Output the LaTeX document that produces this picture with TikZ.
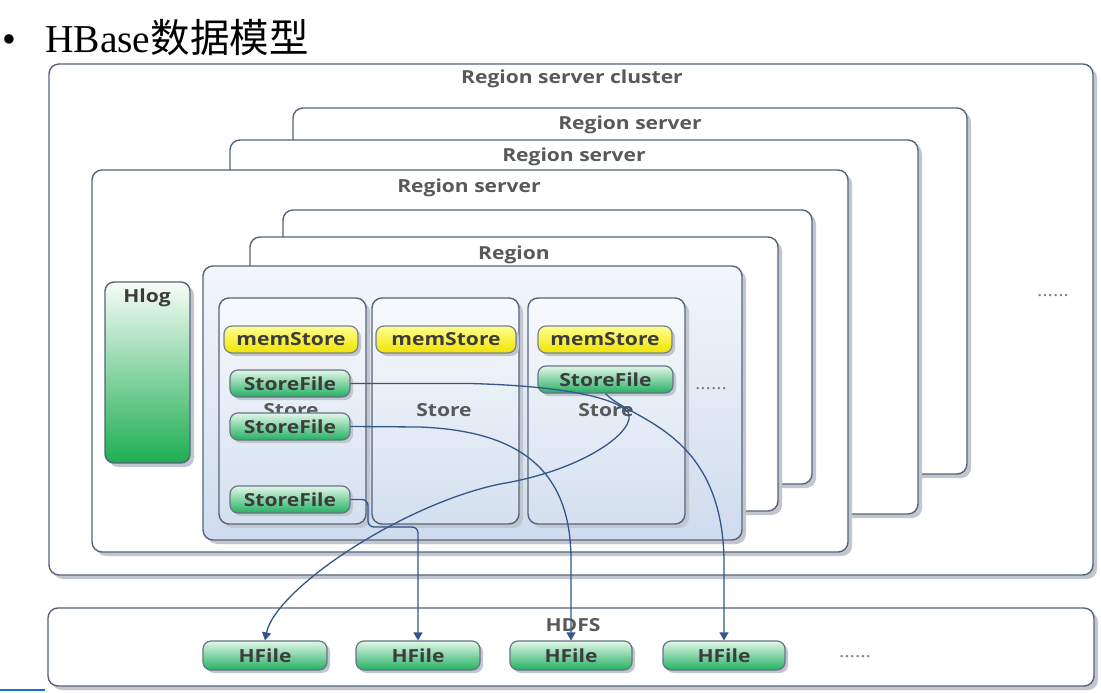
\documentclass[tikz,border=0pt]{standalone}
\usepackage{fontspec}
\setmainfont{Open Sans}
\newfontfamily\wfont[FakeStretch=1.17]{Open Sans}
\newfontfamily\titlefont{Liberation Serif}
\newfontfamily\cjkfont{Noto Sans CJK SC}
\usetikzlibrary{shadows,arrows.meta}
\definecolor{bordc}{HTML}{56637A}
\definecolor{shadc}{HTML}{C2C6CE}
\definecolor{arrc}{HTML}{34568A}
\definecolor{txtc}{HTML}{3C3C3C}
\definecolor{rgTop}{HTML}{F3F6FB}
\definecolor{rgBot}{HTML}{CFDCEE}
\definecolor{stTop}{HTML}{F8FAFD}
\definecolor{stBot}{HTML}{D4E0F0}
\definecolor{gTop}{HTML}{E2F7E8}
\definecolor{gBot}{HTML}{24B062}
\definecolor{yTop}{HTML}{FFFF90}
\definecolor{yBot}{HTML}{F0E400}
\definecolor{hlTop}{HTML}{F7FCF8}
\definecolor{hlBot}{HTML}{1DAE52}
\definecolor{blueline}{HTML}{1C6FD0}
\tikzset{
  bx/.style={draw=bordc, line width=1.4pt, rounded corners=10pt, inner sep=0pt, fill=white,
    drop shadow={shadow xshift=4pt, shadow yshift=-4pt, fill=shadc, opacity=1}},
  lab/.style={inner sep=0pt, text=txtc!85, font=\wfont\bfseries\fontsize{18}{20}\selectfont},
  blab/.style={inner sep=0pt, text=txtc, font=\wfont\bfseries\fontsize{18}{20}\selectfont},
  membox/.style={draw=bordc!80, line width=1.2pt, rounded corners=8pt, inner sep=0pt,
    top color=yTop, bottom color=yBot, text=txtc, font=\wfont\bfseries\fontsize{18}{20}\selectfont,
    drop shadow={shadow xshift=3pt, shadow yshift=-3pt, fill=shadc, opacity=1}},
  gbox/.style={draw=bordc!90, line width=1.2pt, rounded corners=8pt, inner sep=0pt,
    top color=gTop, bottom color=gBot, text=txtc, font=\wfont\bfseries\fontsize{18}{20}\selectfont,
    drop shadow={shadow xshift=3pt, shadow yshift=-3pt, fill=shadc, opacity=1}},
  dots/.style={inner sep=0pt, text=gray, font=\wfont\fontsize{17}{18}\selectfont},
  arr/.style={draw=arrc, line width=1.3pt, -{Triangle[width=9pt,length=8pt]}}
}
\begin{document}
\begin{tikzpicture}[x=1pt,y=-1pt]
\useasboundingbox (0,0) rectangle (1101,693);
\fill[white] (0,0) rectangle (1101,693);
% title
\node[anchor=base west, inner sep=0pt, font=\titlefont\fontsize{39.5}{41}\selectfont] (bul) at (2,53) {•};
\node[anchor=base west, inner sep=0pt, font=\fontsize{39.5}{41}\selectfont] (title) at (45,53) {{\titlefont HBase}{\cjkfont 数据模型}};
% cluster and region servers
\node[bx, minimum width=1044pt, minimum height=511pt] (cl) at (571,319.5) {};
\node[lab] (lcl) at (572,79) {Region server cluster};
\node[bx, minimum width=674pt, minimum height=366pt] (rs3) at (630,291) {};
\node[lab] (lrs3) at (630,125) {Region server};
\node[bx, minimum width=688pt, minimum height=374pt] (rs2) at (574,327) {};
\node[lab] (lrs2) at (574,157) {Region server};
\node[bx, minimum width=756pt, minimum height=382pt] (rs1) at (470,361) {};
\node[lab] (lrs1) at (469,188) {Region server};
\node[dots] (d1) at (1053,296) {......};
% regions
\node[bx, minimum width=529pt, minimum height=274pt] (rg3) at (547.5,347) {};
\node[bx, minimum width=528pt, minimum height=274pt] (rg2) at (514,374) {};
\node[lab] (lrg) at (514,255) {Region};
\node[bx, top color=rgTop, bottom color=rgBot, minimum width=539pt, minimum height=274pt] (rg1) at (472.5,403) {};
% hlog
\node[bx, rounded corners=9pt, top color=hlTop, bottom color=hlBot, minimum width=85pt, minimum height=181pt] (hlog) at (147.5,372.5) {};
\node[blab] (lhlog) at (147,298) {Hlog};
% stores
\node[bx, top color=stTop, bottom color=stBot, minimum width=147pt, minimum height=226pt] (st1) at (292.5,411) {};
\node[bx, top color=stTop, bottom color=stBot, minimum width=147pt, minimum height=226pt] (st2) at (445.5,411) {};
\node[bx, top color=stTop, bottom color=stBot, minimum width=157pt, minimum height=226pt] (st3) at (606.5,411) {};
\node[lab] (lst1) at (291,410) {Store};
\node[lab] (lst2) at (444,410) {Store};
\node[lab] (lst3) at (606,410) {Store};
\node[dots] (d2) at (711,389) {......};
% memstores
\node[membox, minimum width=134pt, minimum height=27pt] (ms1) at (291,339.5) {memStore};
\node[membox, minimum width=140pt, minimum height=27pt] (ms2) at (446,339.5) {memStore};
\node[membox, minimum width=134pt, minimum height=27pt] (ms3) at (605,339.5) {memStore};
% storefiles
\node[gbox, minimum width=120pt, minimum height=27pt] (sf1) at (290,383.5) {StoreFile};
\node[gbox, minimum width=120pt, minimum height=27pt] (sf2) at (290,426.5) {StoreFile};
\node[gbox, minimum width=120pt, minimum height=27pt] (sf4) at (290,499.5) {StoreFile};
\node[gbox, minimum width=135pt, minimum height=27pt] (sf3) at (605.5,379.5) {StoreFile};
% HDFS
\node[bx, minimum width=1046pt, minimum height=78pt] (hdfs) at (571,647) {};
\node[lab] (lhdfs) at (573,625) {HDFS};
\node[gbox, minimum width=124pt, minimum height=29pt] (hf1) at (265,655.5) {HFile};
\node[gbox, minimum width=124pt, minimum height=29pt] (hf2) at (418,655.5) {HFile};
\node[gbox, minimum width=122pt, minimum height=29pt] (hf3) at (571,655.5) {HFile};
\node[gbox, minimum width=122pt, minimum height=29pt] (hf4) at (724,655.5) {HFile};
\node[dots] (d3) at (855,657) {......};
% connectors
\draw[arr] (sf1.east) -- (470,383.5) .. controls (565,386) and (615,398) .. (628,412)
  .. controls (638,430) and (585,470) .. (500,484)
  .. controls (400,505) and (275,590) .. (hf1.north);
\draw[arr] (sf3.south) .. controls (630,420) and (722,430) .. (724,560) -- (hf4.north);
\draw[arr] (sf2.east) -- (420,427) .. controls (520,431) and (571,470) .. (571,560) -- (hf3.north);
\draw[arr, rounded corners=6pt] (sf4.east) -- (368,499.5) -- (368,527) -- (418,527) -- (hf2.north);
% slide artifact
\draw[blueline, line width=2pt] (0,690) -- (45,690);
\end{tikzpicture}
\end{document}
